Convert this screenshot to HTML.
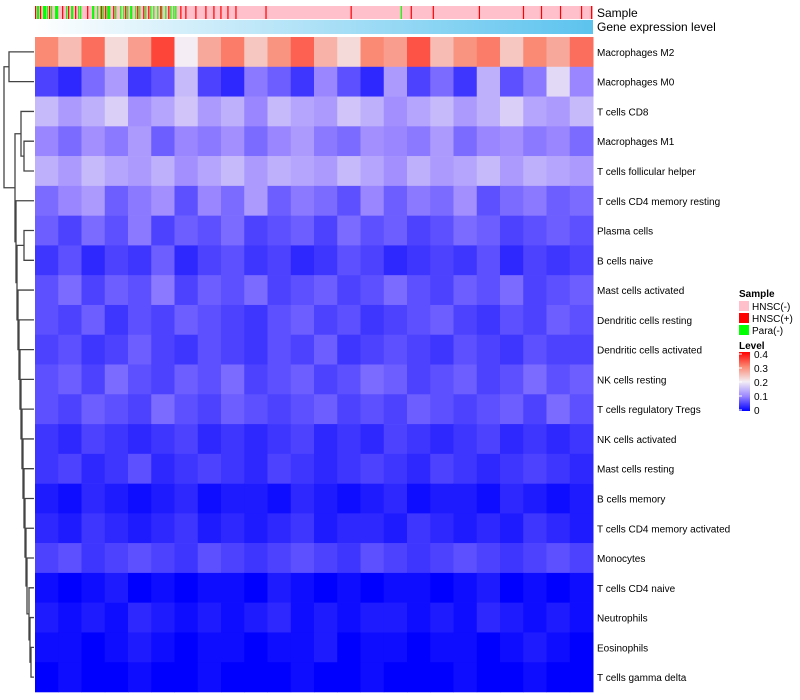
<!DOCTYPE html>
<html><head><meta charset="utf-8"><style>
body{margin:0;background:#fff;width:800px;height:700px;overflow:hidden;font-family:"Liberation Sans",sans-serif}
svg{display:block}
</style></head><body>
<svg id="chart" width="800" height="700" xmlns="http://www.w3.org/2000/svg" font-family="Liberation Sans, sans-serif">
<defs>
<linearGradient id="geneGrad" x1="0" x2="1" y1="0" y2="0"><stop offset="0" stop-color="#ffffff"/><stop offset="1" stop-color="#5cc3ee"/></linearGradient>
<linearGradient id="levelGrad" x1="0" x2="0" y1="1" y2="0">
<stop offset="0" stop-color="#0000ff"/><stop offset="0.25" stop-color="#9a86ff"/><stop offset="0.5" stop-color="#f4eef4"/><stop offset="0.75" stop-color="#fa8a74"/><stop offset="1" stop-color="#ff0000"/></linearGradient>
</defs>
<g id="dendro"></g>
<g id="sampleBar"></g>
<rect x="35" y="20" width="558" height="14" fill="url(#geneGrad)"/>
<text x="597" y="17" font-size="12">Sample</text>
<text x="597" y="31" font-size="12">Gene expression level</text>
<g id="cells"></g>
<g id="rowLabels"></g>
<g font-size="10">
<text x="739" y="297" font-weight="bold">Sample</text>
<rect x="739" y="301" width="10" height="10" fill="#ffc0cb"/>
<text x="752" y="310">HNSC(-)</text>
<rect x="739" y="313" width="10" height="10" fill="#ff0000"/>
<text x="752" y="322">HNSC(+)</text>
<rect x="739" y="325" width="10" height="10" fill="#00ff00"/>
<text x="752" y="334">Para(-)</text>
<text x="739" y="349" font-weight="bold">Level</text>
<rect x="739" y="352" width="11" height="59" fill="url(#levelGrad)"/>
<g id="levelTicks"></g>
</g>
</svg>
<script>
const rowNames=["Macrophages M2","Macrophages M0","T cells CD8","Macrophages M1","T cells follicular helper","T cells CD4 memory resting","Plasma cells","B cells naive","Mast cells activated","Dendritic cells resting","Dendritic cells activated","NK cells resting","T cells regulatory  Tregs","NK cells activated","Mast cells resting","B cells memory","T cells CD4 memory activated","Monocytes","T cells CD4 naive","Neutrophils","Eosinophils","T cells gamma delta"];
// levels x100 per row, column groups
const rowM2=[30,25,32,22,28,35,20,27,31,24,29,33,26,22,30,28,34,25,29,31,24,30,27,32];
const rowM0=[5,3,8,12,4,6,15,5,3,9,7,4,10,6,3,12,5,8,4,14,6,9,18,10];
const rowCD8=[15,12,14,17,11,13,16,12,14,10,15,13,12,16,14,11,13,15,12,14,17,13,12,15];
const rowM1=[10,8,11,9,12,7,10,9,11,8,10,12,9,8,11,10,9,12,8,10,11,9,10,8];
const rowTfh=[14,12,15,13,12,14,11,13,15,12,14,13,12,15,13,11,14,12,13,15,12,14,13,12];
const rowCD4mr=[8,10,12,7,9,11,6,10,8,12,7,9,8,6,10,7,9,8,11,6,8,9,7,8];
const rowPlasma=[7,5,8,6,9,5,7,6,8,5,6,7,5,8,6,7,5,6,8,7,5,6,7,6];
const rowBnaive=[4,6,3,5,4,7,3,5,6,4,5,3,4,6,5,3,4,5,4,6,3,5,4,5];
const rowMastAct=[6,8,5,7,6,9,5,7,6,8,5,6,7,5,6,8,6,5,7,6,8,5,6,7];
const rowDCrest=[6,5,7,4,6,5,7,6,5,4,6,7,5,6,4,5,6,7,5,4,6,5,7,6];
const rowDCact=[5,6,4,5,7,5,4,6,5,4,6,5,7,4,5,6,5,4,6,5,4,6,5,5];
const rowNKrest=[6,7,5,8,6,5,7,6,8,5,6,7,5,6,8,7,5,6,7,5,6,8,6,7];
const rowTregs=[6,5,7,6,5,8,6,5,7,6,5,6,7,5,6,5,7,6,5,6,7,5,8,6];
const rowNKact=[4,3,5,4,3,4,5,3,4,3,4,5,3,4,3,5,4,3,4,5,3,4,3,4];
const rowMastRest=[4,5,3,4,6,3,4,5,4,3,5,4,3,4,5,4,3,5,4,3,4,5,4,3];
const rowBmem=[2,1,3,2,1,2,3,1,2,2,1,3,2,1,2,3,1,2,2,1,3,2,1,2];
const rowCD4ma=[3,2,4,3,2,3,4,2,3,2,3,4,2,3,3,2,4,3,2,3,2,4,3,2];
const rowMono=[5,6,4,5,6,5,4,6,5,4,5,6,5,4,6,5,4,5,6,5,4,5,6,5];
const rowCD4naive=[1,0,1,2,0,1,0,1,1,0,2,1,0,1,0,1,1,0,1,2,0,1,0,1];
const rowNeut=[2,1,2,1,3,2,1,2,1,2,3,1,2,1,2,2,1,2,1,3,2,1,2,1];
const rowEos=[1,1,0,1,2,1,0,1,1,0,1,1,2,0,1,1,0,1,1,0,1,2,1,0];
const rowGD=[0,1,0,0,1,0,0,1,0,0,0,1,0,0,1,0,0,0,1,0,0,1,0,0];
const rows=[rowM2,rowM0,rowCD8,rowM1,rowTfh,rowCD4mr,rowPlasma,rowBnaive,rowMastAct,rowDCrest,rowDCact,rowNKrest,rowTregs,rowNKact,rowMastRest,rowBmem,rowCD4ma,rowMono,rowCD4naive,rowNeut,rowEos,rowGD];
const nSamples=557;
const greenSamples=[2,3,8,9,10,12,16,20,21,22,31,36,37,43,45,57,58,62,65,68,72,73,74,80,85,88,92,95,96,100,104,110,115,118,122,126,130,135,138,140,365];
const redSamples=[0,5,14,27,33,40,52,66,70,78,90,102,108,113,125,133,145,150,160,170,178,185,192,200,230,315,375,397,443,487,505,524,545,555];
// dendrogram merges: [left node, right node, height]
const merges=[[20,21,3],[19,22,4],[18,23,5],[17,24,7],[16,25,8],[15,26,9],[14,27,10],[13,28,11],[12,29,12],[11,30,13],[10,31,14],[9,32,15],[8,33,16],[6,7,10],[35,34,17],[5,36,18],[3,4,10],[2,38,13],[39,37,19],[0,1,25],[41,40,30]];
const levelTicks=[0,0.1,0.2,0.3,0.4];

const NS="http://www.w3.org/2000/svg";
const X0=35,X1=593,Y0=37,Y1=692;
const rowH=(Y1-Y0)/rows.length;
const yRow=i=>Y0+i*rowH;
function mk(tag,attrs,parent){const e=document.createElementNS(NS,tag);for(const k in attrs)e.setAttribute(k,attrs[k]);parent.appendChild(e);return e;}
const stops=[[0,[0,0,255]],[0.1,[154,134,255]],[0.2,[244,238,244]],[0.3,[250,138,116]],[0.4,[255,0,0]]];
function color(v){v=Math.max(0,Math.min(0.4,v));for(let i=1;i<stops.length;i++){if(v<=stops[i][0]){const a=stops[i-1],b=stops[i],t=(v-a[0])/(b[0]-a[0]);return 'rgb('+a[1].map((c,k)=>Math.round(c+(b[1][k]-c)*t)).join(',')+')';}}return 'rgb(255,0,0)';}
const cells=document.getElementById('cells');
rows.forEach((arr,i)=>{const w=(X1-X0)/arr.length;arr.forEach((v,j)=>{
 const r=mk('rect',{x:X0+j*w,y:yRow(i),width:w+0.5,height:rowH+0.3,fill:color(v/100)},cells);
 
 
});});
const rl=document.getElementById('rowLabels');
rowNames.forEach((n,i)=>{const t=mk('text',{x:597,y:yRow(i)+rowH/2+4,'font-size':10},rl);t.textContent=n;
 
 });
const sb=document.getElementById('sampleBar');
const sw=(X1-X0)/nSamples;
const bg=mk('rect',{x:X0,y:6,width:X1-X0,height:13,fill:'#ffc0cb'},sb);


greenSamples.forEach(s=>{const r=mk('rect',{x:X0+s*sw,y:6,width:Math.max(sw,1.2),height:13,fill:'#00ff00'},sb);
 
 });
redSamples.forEach(s=>{const r=mk('rect',{x:X0+s*sw,y:6,width:Math.max(sw,1.2),height:13,fill:'#ff0000'},sb);
 
 });
// dendrogram
const dg=document.getElementById('dendro');
const pos={};rows.forEach((_,i)=>pos[i]={y:yRow(i)+rowH/2,x:X0-1});
merges.forEach((m,k)=>{const a=pos[m[0]],b=pos[m[1]],x=X0-1-m[2];
 const p=mk('path',{d:`M${a.x},${a.y}H${x}V${b.y}H${b.x}`,fill:'none',stroke:'#444','stroke-width':1.3},dg);
 
 
 pos[rows.length+k]={x:x,y:(a.y+b.y)/2};});
const lt=document.getElementById('levelTicks');
levelTicks.forEach(v=>{const y=410-v/0.4*56;const t=mk('text',{x:754,y:y+4,'font-size':10},lt);t.textContent=String(v);
 
 
 const l=mk('line',{x1:739,x2:742,y1:y,y2:y,stroke:'#fff'},lt);
 
 });
</script>
</body></html>
